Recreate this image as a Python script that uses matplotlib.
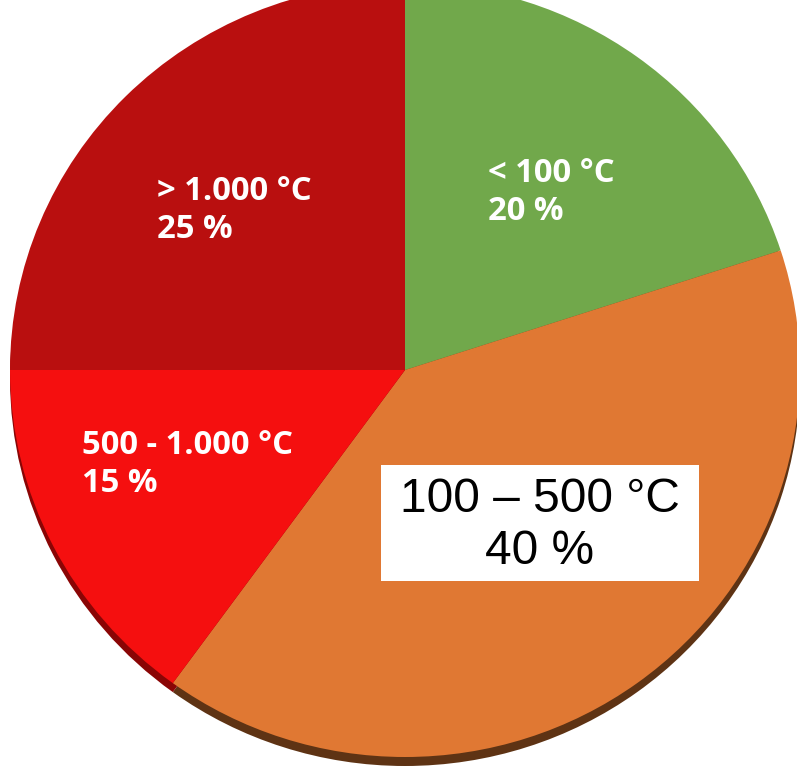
import matplotlib.pyplot as plt
from matplotlib.patches import Rectangle

# Temperature bands and their share
labels = ['< 100 °C', '100 – 500 °C', '500 - 1.000 °C', '> 1.000 °C']
shares = [20, 40, 15, 25]
colors = ['#71a84b', '#e07833', '#f50f0f', '#b90f0f']
rim_colors = ['#3f6128', '#5e3314', '#8a0505', '#6a0808']

W, H = 797, 770
fig = plt.figure(figsize=(W / 100, H / 100), dpi=100)
ax = fig.add_axes([0, 0, 1, 1])

# pie is a little wider than tall (slight tilt), so x units are stretched
rx, ry = 395, 387
sx = rx / ry
cx, cy = 405 / sx, H - 370

# dark rim underneath gives the 3D edge at the bottom
ax.pie(shares, colors=rim_colors, startangle=90, counterclock=False,
       center=(cx, cy - 9), radius=ry, wedgeprops=dict(linewidth=0))
ax.pie(shares, colors=colors, startangle=90, counterclock=False,
       center=(cx, cy), radius=ry, wedgeprops=dict(linewidth=0))

ax.set_xlim(0, W / sx)
ax.set_ylim(0, H)
ax.set_aspect('auto')
ax.axis('off')


def at(x, y):
    return x / W, 1 - y / H


white = dict(color='white', fontsize=23.7, fontweight='bold', family='Open Sans',
             ha='left', va='center', linespacing=1.2, transform=ax.transAxes)
ax.text(*at(488, 193), f'{labels[0]}\n{shares[0]} %', **white)
ax.text(*at(157, 211), f'{labels[3]}\n{shares[3]} %', **white)
ax.text(*at(82, 464), f'{labels[2]}\n{shares[2]} %', **white)

# boxed label for the largest band
x0, y0 = at(381, 581)
ax.add_patch(Rectangle((x0, y0), 318 / W, 116 / H, transform=ax.transAxes,
                       facecolor='white', edgecolor='none', zorder=3))
ax.text(*at(540, 525), f'{labels[1]}\n{shares[1]} %', color='black',
        fontsize=34.5, family='Liberation Sans', ha='center', va='center',
        linespacing=1.2, transform=ax.transAxes, zorder=4)

fig.savefig('out.png', dpi=100)
